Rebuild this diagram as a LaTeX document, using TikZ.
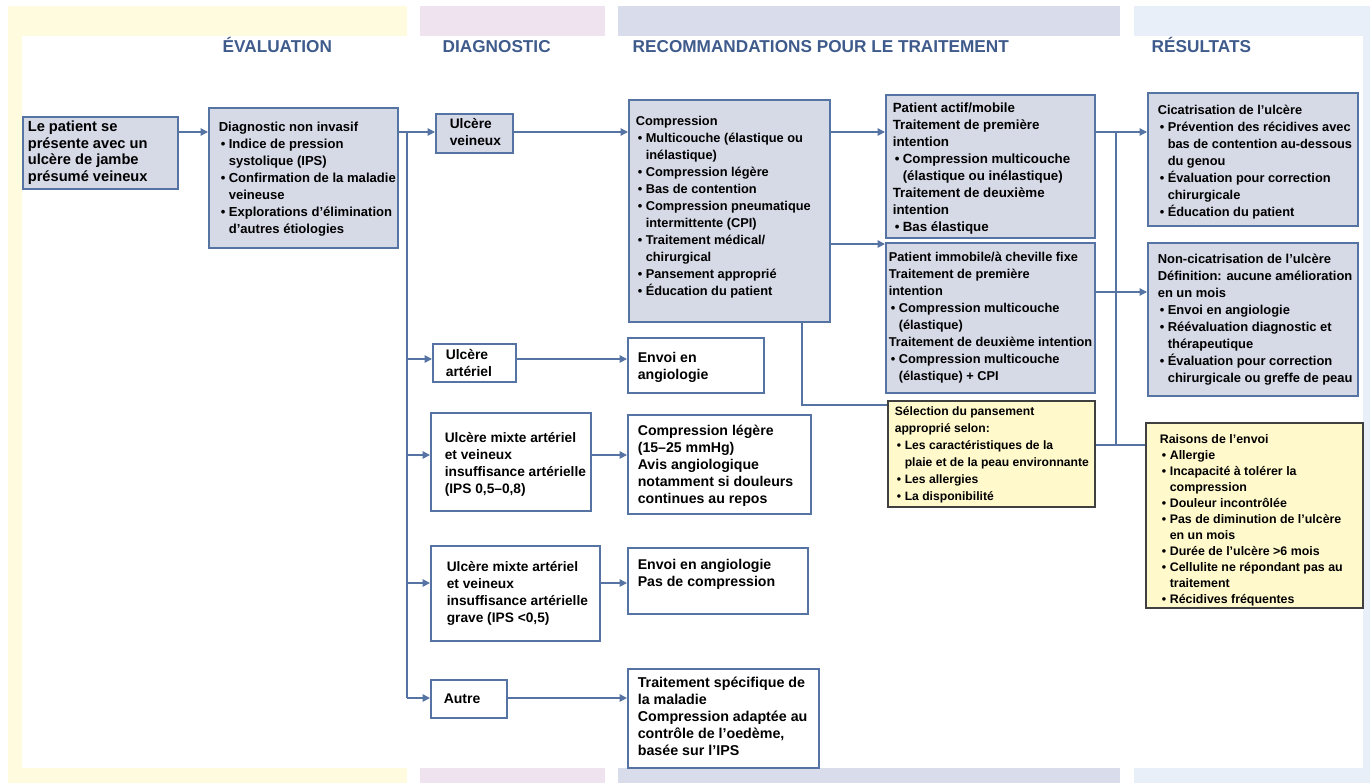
\documentclass[tikz,border=0pt]{standalone}
\usepackage{fontspec}
\setmainfont{Liberation Sans}
\usepackage{xcolor}
\usetikzlibrary{arrows.meta}

\definecolor{bandyellow}{HTML}{FFFBDE}
\definecolor{bandpink}{HTML}{F0E3F0}
\definecolor{bandblue}{HTML}{D9DCEA}
\definecolor{bandlight}{HTML}{E8EFF8}
\definecolor{boxgrey}{HTML}{D6D9E6}
\definecolor{boxline}{HTML}{5573A3}
\definecolor{noteyellow}{HTML}{FFF9CC}
\definecolor{headblue}{HTML}{3F5B8C}

\newlength\pxu
\setlength\pxu{0.75pt}
\newcommand{\bul}{\hspace*{1.5pt}\makebox[6pt][l]{\textbullet}}
\newcommand{\ind}{\hspace*{7.5pt}}
\newcommand{\cellbox}[5]{\begin{minipage}[c][#2\pxu][t]{#1\pxu}\vspace*{#4\pxu}\hspace*{#3\pxu}\begin{tabular}[t]{@{}l@{}}#5\end{tabular}\end{minipage}}

\begin{document}
\begin{tikzpicture}
	[x=0.75pt, y=-0.75pt,
	gbox/.style = {draw=boxline, line width=1.2pt, fill=boxgrey, inner sep=0pt, anchor=north west, font=\bfseries\fontsize{10}{12.75}\selectfont},
	wbox/.style = {gbox, fill=white},
	ybox/.style = {gbox, draw=black!75, fill=noteyellow},
	txt/.style = {font=\bfseries\fontsize{#1}{12.75}\selectfont},
	head/.style = {anchor=base west, text=headblue, font=\bfseries\fontsize{12.9}{15}\selectfont},
	link/.style = {draw=boxline, line width=1.1pt},
	arr/.style = {link, -{Triangle[length=5.5pt, width=5.5pt]}}]
	\useasboundingbox (0,0) rectangle (1372,783);
	\fill[bandyellow] (8,6) rectangle (407,783);
	\fill[bandpink] (420,6) rectangle (605,783);
	\fill[bandblue] (618,6) rectangle (1120,783);
	\fill[bandlight] (1134,6) rectangle (1370,783);
	\fill[white] (22,36) rectangle (1363,768);

	\node[head] (hEval) at (218,52) {ÉVALUATION};
	\node[head] (hDiag) at (438,52) {DIAGNOSTIC};
	\node[head] (hTrait) at (628,52) {RECOMMANDATIONS POUR LE TRAITEMENT};
	\node[head] (hRes) at (1147,52) {RÉSULTATS};

	\node[gbox, font=\bfseries\fontsize{11}{12.5}\selectfont] (patient) at (22,116) {\cellbox{155}{72}{5}{3}{Le patient se\\présente avec un\\ulcère de jambe\\présumé veineux}};
	\node[gbox, txt=9.8] (diag) at (208,107) {\cellbox{189}{140}{10}{12}{Diagnostic non invasif\\\bul Indice de pression\\\ind systolique (IPS)\\\bul Confirmation de la maladie\\\ind veineuse\\\bul Explorations d'élimination\\\ind d'autres étiologies}};
	\node[gbox, txt=10.3] (veineux) at (435,113) {\cellbox{77}{39}{14}{3}{Ulcère\\veineux}};
	\node[gbox, txt=9.6] (compr) at (628,99) {\cellbox{201}{222}{7}{14}{Compression\\\bul Multicouche (élastique ou\\\ind inélastique)\\\bul Compression légère\\\bul Bas de contention\\\bul Compression pneumatique\\\ind intermittente (CPI)\\\bul Traitement médical/\\\ind chirurgical\\\bul Pansement approprié\\\bul Éducation du patient}};
	\node[gbox, txt=10] (actif) at (885,94) {\cellbox{209}{143}{7}{6}{Patient actif/mobile\\Traitement de première\\intention\\\bul Compression multicouche\\\ind (élastique ou inélastique)\\Traitement de deuxième\\intention\\\bul Bas élastique}};
	\node[gbox, txt=9.6] (immob) at (885,242) {\cellbox{209}{150}{3}{7}{Patient immobile/à cheville fixe\\Traitement de première\\intention\\\bul Compression multicouche\\\ind (élastique)\\Traitement de deuxième intention\\\bul Compression multicouche\\\ind (élastique) + CPI}};
	\node[gbox, txt=9.6] (cicat) at (1147,92) {\cellbox{210}{133}{10}{10}{Cicatrisation de l'ulcère\\\bul Prévention des récidives avec\\\ind bas de contention au-dessous\\\ind du genou\\\bul Évaluation pour correction\\\ind chirurgicale\\\bul Éducation du patient}};
	\node[gbox, txt=9.7] (noncic) at (1147,242) {\cellbox{210}{153}{10}{9}{Non-cicatrisation de l'ulcère\\Définition: aucune amélioration\\en un mois\\\bul Envoi en angiologie\\\bul Réévaluation diagnostic et\\\ind thérapeutique\\\bul Évaluation pour correction\\\ind chirurgicale ou greffe de peau}};
	\node[ybox, txt=9.1] (selec) at (887,400) {\cellbox{207}{106}{7}{3}{Sélection du pansement\\approprié selon:\\\bul Les caractéristiques de la\\\ind plaie et de la peau environnante\\\bul Les allergies\\\bul La disponibilité}};
	\node[ybox, font=\bfseries\fontsize{9.3}{12}\selectfont] (raisons) at (1145,422) {\cellbox{217}{185}{14}{9}{Raisons de l'envoi\\\bul Allergie\\\bul Incapacité à tolérer la\\\ind compression\\\bul Douleur incontrôlée\\\bul Pas de diminution de l'ulcère\\\ind en un mois\\\bul Durée de l'ulcère >6 mois\\\bul Cellulite ne répondant pas au\\\ind traitement\\\bul Récidives fréquentes}};

	\node[wbox, txt=10.4] (art) at (432,343) {\cellbox{83}{38}{13}{4}{Ulcère\\artériel}};
	\node[wbox, txt=10.6] (envoiA) at (627,337) {\cellbox{136}{55}{10}{13}{Envoi en\\angiologie}};
	\node[wbox, txt=10.3] (mixte) at (430,412) {\cellbox{160}{98}{14}{18}{Ulcère mixte artériel\\et veineux\\insuffisance artérielle\\(IPS 0,5–0,8)}};
	\node[wbox, txt=10.6] (legere) at (627,414) {\cellbox{183}{99}{10}{9}{Compression légère\\(15–25 mmHg)\\Avis angiologique\\notamment si douleurs\\continues au repos}};
	\node[wbox, txt=10.3] (grave) at (430,545) {\cellbox{169}{95}{16}{14}{Ulcère mixte artériel\\et veineux\\insuffisance artérielle\\grave (IPS <0,5)}};
	\node[wbox, txt=10.6] (envoiB) at (627,547) {\cellbox{180}{66}{10}{10}{Envoi en angiologie\\Pas de compression}};
	\node[wbox, txt=10.5] (autre) at (430,679) {\cellbox{76}{38}{13}{12}{Autre}};
	\node[wbox, txt=10.7] (specif) at (627,668) {\cellbox{191}{99}{10}{7}{Traitement spécifique de\\la maladie\\Compression adaptée au\\contrôle de l'oedème,\\basée sur l'IPS}};

	\coordinate (rowA) at (407,132);
	\coordinate (rowArt) at (407,359);
	\coordinate (rowMix) at (407,455);
	\coordinate (rowGrv) at (407,583);
	\coordinate (rowAut) at (407,698);
	\coordinate (rowI) at (850,244);
	\coordinate (rtrunk) at (1116,132);
	\coordinate (rowN) at (1116,292);
	\coordinate (rowR) at (1116,445);
	\coordinate (bend) at (802,405);

	\draw[arr] (patient.east |- rowA) -- (diag.west |- rowA);
	\draw[link] (diag.east |- rowA) -- (rowA) -- (rowAut);
	\draw[arr] (rowA) -- (veineux.west |- rowA);
	\draw[arr] (veineux.east |- rowA) -- (compr.west |- rowA);
	\draw[arr] (compr.east |- rowA) -- (actif.west |- rowA);
	\draw[arr] (compr.east |- rowI) -- (immob.west |- rowI);
	\draw[link] (actif.east |- rtrunk) -- (rtrunk) -- (rowR);
	\draw[arr] (rtrunk) -- (cicat.west |- rtrunk);
	\draw[link] (immob.east |- rowN) -- (rowN);
	\draw[arr] (rowN) -- (noncic.west |- rowN);
	\draw[link] (selec.east |- rowR) -- (rowR) -- (raisons.west |- rowR);
	\draw[link] (compr.south -| bend) -- (bend) -- (selec.west |- bend);

	\draw[arr] (rowArt) -- (art.west |- rowArt);
	\draw[arr] (art.east |- rowArt) -- (envoiA.west |- rowArt);
	\draw[arr] (rowMix) -- (mixte.west |- rowMix);
	\draw[arr] (mixte.east |- rowMix) -- (legere.west |- rowMix);
	\draw[arr] (rowGrv) -- (grave.west |- rowGrv);
	\draw[arr] (grave.east |- rowGrv) -- (envoiB.west |- rowGrv);
	\draw[arr] (rowAut) -- (autre.west |- rowAut);
	\draw[arr] (autre.east |- rowAut) -- (specif.west |- rowAut);
\end{tikzpicture}
\end{document}
